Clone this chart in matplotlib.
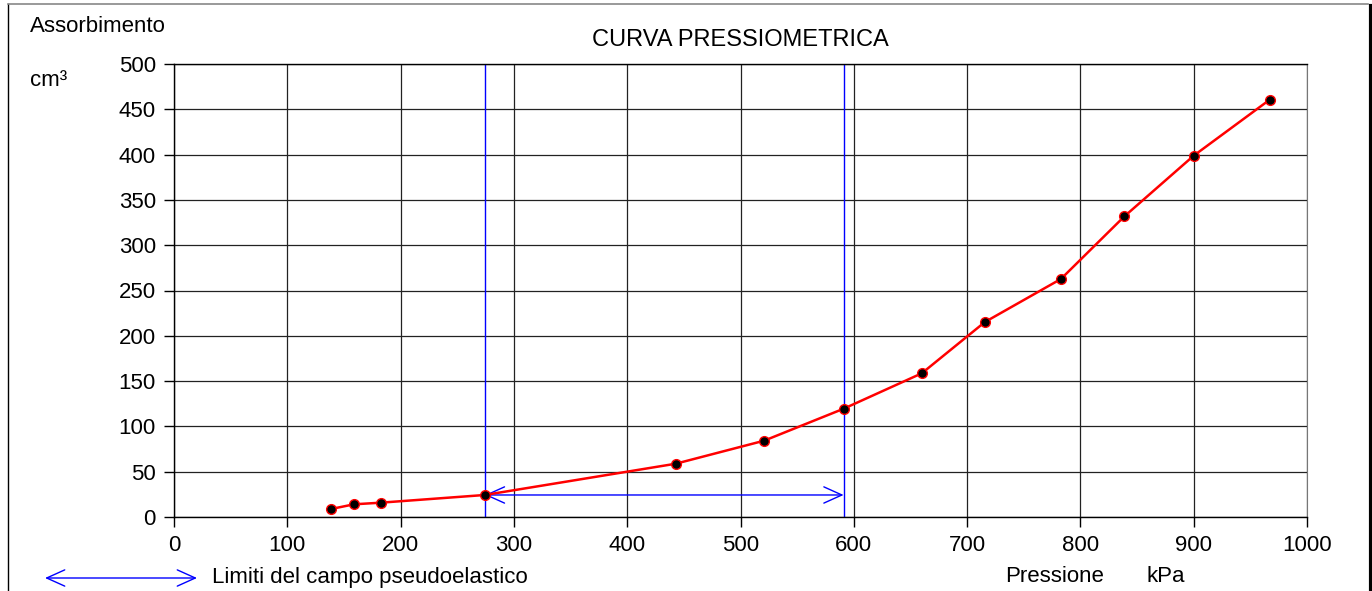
import matplotlib.pyplot as plt
from matplotlib.patches import FancyArrowPatch
from matplotlib.lines import Line2D

plt.rcParams['font.family'] = ['Liberation Sans', 'DejaVu Sans']

# pressure (kPa) and volume absorbed (cm3)
pressione = [138.5, 158.8, 182.4, 274.3, 442.8, 520.8, 591.0, 660.0, 715.7, 782.8, 838.8, 900.0, 967.2]
assorbimento = [8.8, 14.0, 15.8, 24.3, 58.8, 84.2, 119.5, 158.6, 215.2, 262.7, 331.8, 398.8, 460.7]

# limits of the pseudo-elastic range
limite_inf = 274.3
limite_sup = 591.0
y_freccia = 24.3

x_ticks = [0, 100, 200, 300, 400, 500, 600, 700, 800, 900, 1000]
y_ticks = [0, 50, 100, 150, 200, 250, 300, 350, 400, 450, 500]

fig = plt.figure(figsize=(13.72, 5.91), dpi=100)
ax = fig.add_axes([174 / 1372, 1 - 517 / 591, (1307 - 174) / 1372, (517 - 64) / 591])

ax.set_xlim(0, 1000)
ax.set_ylim(0, 500)
ax.set_xticks(x_ticks)
ax.set_yticks(y_ticks)
ax.grid(True, color='#222222', lw=0.9)
ax.set_axisbelow(True)
ax.tick_params(labelsize=16, length=7, width=1, pad=6, colors='black')
for s in ['left', 'bottom', 'top']:
    ax.spines[s].set_color('black')
    ax.spines[s].set_linewidth(1)
ax.spines['right'].set_color('#777777')

stile = '<->,head_length=1.0,head_width=0.45'

ax.axvline(limite_inf, color='blue', lw=1, zorder=2)
ax.axvline(limite_sup, color='blue', lw=1, zorder=2)
ax.add_patch(FancyArrowPatch((limite_inf, y_freccia), (limite_sup, y_freccia),
                             arrowstyle=stile, mutation_scale=13, shrinkA=0, shrinkB=0,
                             color='blue', lw=1, zorder=2))

ax.plot(pressione, assorbimento, color='red', lw=1.8, marker='o', markersize=7,
        markerfacecolor='black', markeredgecolor='red', markeredgewidth=1, zorder=3)

ax.set_title('CURVA PRESSIOMETRICA', fontsize=17, pad=13)

fig.text(30 / 1372, 1 - 27 / 591, 'Assorbimento', fontsize=16, va='center', ha='left')
fig.text(30 / 1372, 1 - 80 / 591, 'cm³', fontsize=16, va='center', ha='left')
fig.text(1005 / 1372, 1 - 577 / 591, 'Pressione', fontsize=16, va='center', ha='left')
fig.text(1147 / 1372, 1 - 577 / 591, 'kPa', fontsize=16, va='center', ha='left')
fig.text(212 / 1372, 1 - 578 / 591, 'Limiti del campo pseudoelastico', fontsize=16,
         va='center', ha='left')
fig.add_artist(FancyArrowPatch((45 / 1372, 1 - 578 / 591), (197 / 1372, 1 - 578 / 591),
                               transform=fig.transFigure, arrowstyle=stile,
                               mutation_scale=13, shrinkA=0, shrinkB=0,
                               color='blue', lw=1))

# frame around the figure
fig.add_artist(Line2D([7.5 / 1372, 7.5 / 1372], [0, 1 - 3.5 / 591], transform=fig.transFigure,
                      color='black', lw=1))
fig.add_artist(Line2D([7.5 / 1372, 1368 / 1372], [1 - 3.5 / 591, 1 - 3.5 / 591],
                      transform=fig.transFigure, color='#888888', lw=1.2))
fig.add_artist(Line2D([1370.5 / 1372, 1370.5 / 1372], [0, 1 - 6 / 591], transform=fig.transFigure,
                      color='black', lw=3))

fig.savefig('out.png', dpi=100)
